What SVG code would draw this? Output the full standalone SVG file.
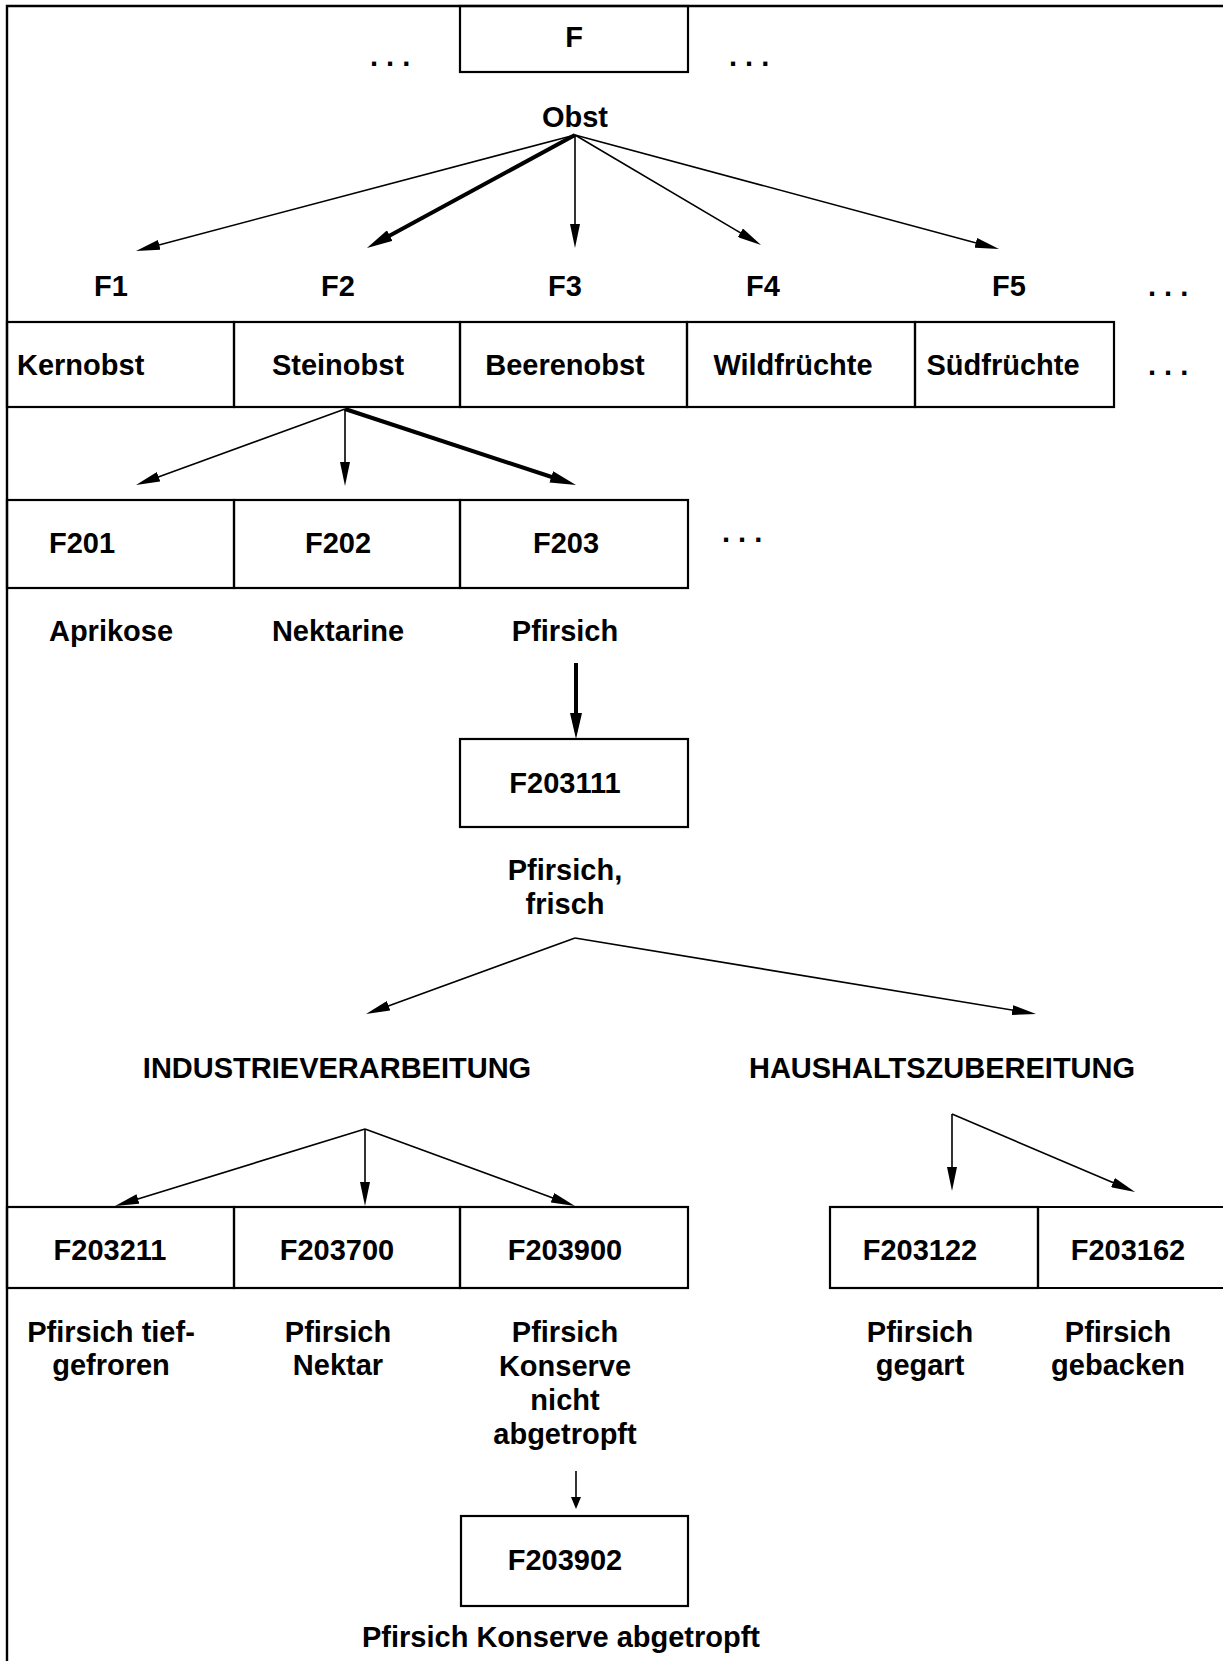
<svg xmlns="http://www.w3.org/2000/svg" width="1223" height="1661" viewBox="0 0 1223 1661">
<style>
text{font-family:"Liberation Sans",Arial,Helvetica,sans-serif;font-weight:bold;font-size:29px;fill:#000}
.c{text-anchor:middle}
.box{fill:none;stroke:#000;stroke-width:2.2}
.frame{fill:none;stroke:#000;stroke-width:2.4}
.thin{fill:none;stroke:#000;stroke-width:1.6}
.thick{fill:none;stroke:#000;stroke-width:4}
</style>
<defs>
<marker id="ah" markerUnits="userSpaceOnUse" markerWidth="24" markerHeight="10" refX="12" refY="5" orient="auto" viewBox="0 0 24 10"><path d="M0,0 L24,5 L0,10 z" fill="#000"/></marker>
<marker id="ahb" markerUnits="userSpaceOnUse" markerWidth="26" markerHeight="12" refX="14" refY="6" orient="auto" viewBox="0 0 26 12"><path d="M0,0 L26,6 L0,12 z" fill="#000"/></marker>
<marker id="ahs" markerUnits="userSpaceOnUse" markerWidth="12" markerHeight="10" refX="6" refY="5" orient="auto" viewBox="0 0 12 10"><path d="M0,0 L12,5 L0,10 z" fill="#000"/></marker>
</defs>
<rect width="1223" height="1661" fill="#fff"/>
<g id="frame"><path class="frame" d="M7,1661 V6 H1223"/></g>

<g id="node-F"><rect class="box" x="460" y="6" width="228" height="66"/><text class="c" x="574" y="47">F</text></g>
<g id="dots-top"><text x="370" y="66">. . .</text><text x="729" y="66">. . .</text></g>
<g id="node-Obst"><text class="c" x="575" y="127">Obst</text></g>

<g id="labels-F"><text class="c" x="111" y="296">F1</text><text class="c" x="338" y="296">F2</text><text class="c" x="565" y="296">F3</text><text class="c" x="763" y="296">F4</text><text class="c" x="1009" y="296">F5</text><text x="1148" y="296">. . .</text></g>

<g id="node-Kernobst"><rect class="box" x="7" y="322" width="227" height="85"/><text x="17" y="375">Kernobst</text></g>
<g id="node-Steinobst"><rect class="box" x="234" y="322" width="226" height="85"/><text class="c" x="338" y="375">Steinobst</text></g>
<g id="node-Beerenobst"><rect class="box" x="460" y="322" width="227" height="85"/><text class="c" x="565" y="375">Beerenobst</text></g>
<g id="node-Wildfruechte"><rect class="box" x="687" y="322" width="228" height="85"/><text class="c" x="793" y="375">Wildfrüchte</text></g>
<g id="node-Suedfruechte"><rect class="box" x="915" y="322" width="199" height="85"/><text class="c" x="1003" y="375">Südfrüchte</text></g>
<g id="dots-row1"><text x="1148" y="375">. . .</text></g>

<g id="node-F201"><rect class="box" x="7" y="500" width="227" height="88"/><text class="c" x="82" y="553">F201</text></g>
<g id="node-F202"><rect class="box" x="234" y="500" width="226" height="88"/><text class="c" x="338" y="553">F202</text></g>
<g id="node-F203"><rect class="box" x="460" y="500" width="228" height="88"/><text class="c" x="566" y="553">F203</text></g>
<g id="dots-row2"><text x="722" y="542">. . .</text></g>
<g id="labels-row2"><text class="c" x="111" y="641">Aprikose</text><text class="c" x="338" y="641">Nektarine</text><text class="c" x="565" y="641">Pfirsich</text></g>

<g id="node-F203111"><rect class="box" x="460" y="739" width="228" height="88"/><text class="c" x="565" y="793">F203111</text></g>
<g id="label-F203111"><text class="c" x="565" y="880">Pfirsich,</text><text class="c" x="565" y="914">frisch</text></g>

<g id="node-Industrie"><text class="c" x="337" y="1078">INDUSTRIEVERARBEITUNG</text></g>
<g id="node-Haushalt"><text class="c" x="942" y="1078">HAUSHALTSZUBEREITUNG</text></g>

<g id="node-F203211"><rect class="box" x="7" y="1207" width="227" height="81"/><text class="c" x="110" y="1260">F203211</text></g>
<g id="node-F203700"><rect class="box" x="234" y="1207" width="226" height="81"/><text class="c" x="337" y="1260">F203700</text></g>
<g id="node-F203900"><rect class="box" x="460" y="1207" width="228" height="81"/><text class="c" x="565" y="1260">F203900</text></g>
<g id="node-F203122"><rect class="box" x="830" y="1207" width="208" height="81"/><text class="c" x="920" y="1260">F203122</text></g>
<g id="node-F203162"><path class="box" d="M1224,1207 H1038 V1288 H1224"/><text class="c" x="1128" y="1260">F203162</text></g>

<g id="labels-row3">
<text class="c" x="111" y="1342">Pfirsich tief-</text><text class="c" x="111" y="1375">gefroren</text>
<text class="c" x="338" y="1342">Pfirsich</text><text class="c" x="338" y="1375">Nektar</text>
<text class="c" x="565" y="1342">Pfirsich</text><text class="c" x="565" y="1376">Konserve</text><text class="c" x="565" y="1410">nicht</text><text class="c" x="565" y="1444">abgetropft</text>
<text class="c" x="920" y="1342">Pfirsich</text><text class="c" x="920" y="1375">gegart</text>
<text class="c" x="1118" y="1342">Pfirsich</text><text class="c" x="1118" y="1375">gebacken</text>
</g>

<g id="node-F203902"><rect class="box" x="461" y="1516" width="227" height="90"/><text class="c" x="565" y="1570">F203902</text></g>
<g id="label-F203902"><text class="c" x="561" y="1647">Pfirsich Konserve abgetropft</text></g>

<g id="connectors">
<line class="thin" x1="575" y1="135" x2="147.6" y2="247.9" marker-end="url(#ah)"/>
<line class="thick" x1="575" y1="135" x2="377.5" y2="242.3" marker-end="url(#ahb)"/>
<line class="thin" x1="575" y1="135" x2="575" y2="236" marker-end="url(#ah)"/>
<line class="thin" x1="575" y1="135" x2="750.7" y2="238.9" marker-end="url(#ah)"/>
<line class="thin" x1="575" y1="135" x2="987.4" y2="245.9" marker-end="url(#ah)"/>
<line class="thin" x1="345" y1="409" x2="147.3" y2="480.9" marker-end="url(#ah)"/>
<line class="thin" x1="345" y1="409" x2="345" y2="474" marker-end="url(#ah)"/>
<line class="thick" x1="345" y1="409" x2="564.6" y2="481.25" marker-end="url(#ahb)"/>
<line class="thick" x1="576" y1="663" x2="576" y2="727" marker-end="url(#ahb)"/>
<line class="thin" x1="575" y1="938" x2="377.3" y2="1009.9" marker-end="url(#ah)"/>
<line class="thin" x1="575" y1="938" x2="1024.2" y2="1012.05" marker-end="url(#ah)"/>
<line class="thin" x1="365" y1="1129" x2="126.5" y2="1202.5" marker-end="url(#ah)"/>
<line class="thin" x1="365" y1="1129" x2="365" y2="1194" marker-end="url(#ah)"/>
<line class="thin" x1="365" y1="1129" x2="563.7" y2="1201.9" marker-end="url(#ah)"/>
<line class="thin" x1="952" y1="1114" x2="952" y2="1179" marker-end="url(#ah)"/>
<line class="thin" x1="952" y1="1114" x2="1124" y2="1187.3" marker-end="url(#ah)"/>
<line class="thin" x1="576" y1="1471" x2="576" y2="1503" marker-end="url(#ahs)"/>
</g>
</svg>
